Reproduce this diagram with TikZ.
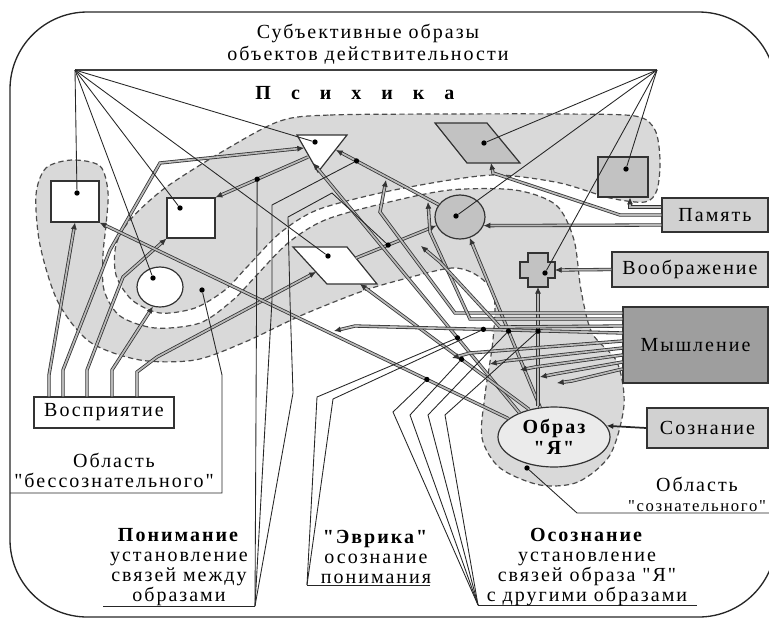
\documentclass[tikz,border=0pt]{standalone}
\usepackage{fontspec}
\newfontfamily\lblfont[LetterSpace=10]{Liberation Serif}
\usetikzlibrary{arrows.meta,calc,positioning,shapes.geometric}

\tikzset{
  zone/.style={fill=black!15, draw=black!70, line width=0.9pt, dash pattern=on 4pt off 2.5pt},
  img/.style={draw=black!80, line width=0.9pt, fill=white, inner sep=0pt},
  shimg/.style={img, fill=black!24},
  faculty/.style={draw=black!80, line width=0.9pt, fill=black!18, inner sep=0pt,
    font=\lblfont\fontsize{15}{16}\selectfont},
  link/.style={draw=black!80, double=black!28, double distance=1.3pt, line width=0.6pt,
    -{Latex[length=5pt,width=4.5pt]}},
  ray/.style={draw=black!85, line width=0.65pt},
  dot/.style={circle, fill=black, inner sep=0pt, minimum size=4pt},
  caption/.style={align=center, inner sep=0pt, font=\lblfont\fontsize{15}{15}\selectfont}
}

\begin{document}
\begin{tikzpicture}[x=0.75pt, y=-0.75pt]
  \useasboundingbox (0,0) rectangle (769,619);
  \draw[line width=1pt, black!85, rounded corners=58pt] (10,12) rectangle (776,617);

  % areas of the psyche
  \draw[zone] plot[smooth cycle, tension=0.5] coordinates {
    (72,160) (100,166) (108,192) (106,225) (103,255) (104,290) (120,316) (155,328)
    (200,323) (233,300) (255,277) (288,243) (325,220) (385,203) (450,190) (515,190)
    (556,205) (574,240) (581,290) (592,333) (617,362) (624,405) (610,455) (578,482)
    (540,485) (500,468) (482,438) (485,395) (493,340) (494,296) (478,276) (452,268)
    (400,280) (360,292) (300,316) (245,342) (195,360) (140,360) (90,342) (58,302)
    (40,245) (36,195) (46,168)};
  \draw[zone] plot[smooth cycle, tension=0.5] coordinates {
    (280,121) (330,115) (450,114) (560,114) (635,116) (655,130) (660,160) (657,190)
    (645,202) (610,198) (560,183) (500,175) (450,180) (380,193) (317,210) (280,233)
    (247,267) (225,290) (195,308) (160,313) (132,300) (116,275) (116,245) (130,220)
    (165,188) (225,150)};

  % header
  \node (hdr) [caption, font=\lblfont\fontsize{15}{16.5}\selectfont] at (368,44) {Субъективные образы\\объектов действительности};
  \node (psy) [font=\lblfont\bfseries\fontsize{15}{15}\selectfont] at (355,93)
    {П\hspace{15pt}с\hspace{15pt}и\hspace{15pt}х\hspace{15pt}и\hspace{15pt}к\hspace{15pt}а};
  \coordinate (fan_l) at (75,70);
  \coordinate (fan_r) at (657,70);
  \draw[line width=1.3pt, black!75] (fan_l) -- (fan_r);

  % faculties
  \node (perc) [faculty, fill=white, minimum width=105pt, minimum height=23.25pt] at (104,412.5) {Восприятие};
  \node (mem) [faculty, minimum width=79.5pt, minimum height=25.5pt] at (715,215) {Память};
  \node (imag) [faculty, minimum width=117pt, minimum height=26.25pt] at (690,269.5) {Воображение};
  \node (think) [faculty, fill=black!38, minimum width=108.75pt, minimum height=57pt] at (695.5,345) {Мышление};
  \node (consc) [faculty, minimum width=90.75pt, minimum height=30pt] at (707.5,428) {Сознание};
  \node (ya) [img, ellipse, fill=black!8, minimum width=84pt, minimum height=45pt, align=center,
    font=\lblfont\bfseries\fontsize{15}{16}\selectfont] at (554,437) {Образ\\"Я"};

  % images
  \node (box_a) [img, minimum width=36pt, minimum height=30.75pt] at (75,201.5) {};
  \node (box_b) [img, minimum width=36pt, minimum height=30pt] at (191,218) {};
  \node (oval_a) [img, ellipse, minimum width=34.5pt, minimum height=30pt] at (160,287) {};
  \node (circ) [shimg, ellipse, minimum width=37.5pt, minimum height=33pt] at (460,217) {};
  \node (box_s) [shimg, minimum width=37.5pt, minimum height=30pt] at (623,177) {};
  \draw[img] (297,135) -- (347,135) -- (318,172) -- cycle;
  \draw[img] (293,247) -- (347,247) -- (377,284) -- (327,284) -- cycle;
  \draw[shimg] (435,123) -- (487,123) -- (520,163) -- (467,163) -- cycle;
  \draw[shimg] (528,253) -- (548,253) -- (548,262) -- (555,262) -- (555,278) -- (548,278)
    -- (548,287) -- (528,287) -- (528,278) -- (520,278) -- (520,262) -- (528,262) -- cycle;
  \coordinate (tri_w) at (304,148);
  \coordinate (tri_sw) at (308,157);
  \coordinate (tri_s) at (313,163);
  \coordinate (tri_e) at (336,150);
  \coordinate (para_w_w) at (316,272);
  \coordinate (para_w_s) at (360,284);
  \coordinate (para_w_e) at (356,258);
  \coordinate (para_s_s) at (491,163);
  \coordinate (cross_e) at (555,270);
  \coordinate (cross_s) at (538,287);

  % links from perception
  \draw[link] ([xshift=-41.25pt]perc.north) -- (49,375) -- (box_a.south);
  \draw[link] ([xshift=-30.75pt]perc.north) -- (63,370) -- (110,250) -- (160,163) -- (tri_w);
  \draw[link] ([xshift=-12.75pt]perc.north) -- (87,370) -- (110,310) -- (123,277) -- (box_b.south west);
  \draw[link] ([xshift=6pt]perc.north) -- (112,370) -- (oval_a.-110);
  \draw[link] ([xshift=24.75pt]perc.north) -- (137,372) -- (157,357) -- (para_w_w);

  % links between images
  \draw[link] (tri_sw) -- (box_b.north east);
  \draw[link] (circ.150) -- (tri_e);
  \draw[link] (para_w_e) -- (circ.200);

  % links of the self image
  \draw[link] (ya.158) -- (box_a.south east);
  \draw[link] (ya.145) -- (tri_s);
  \draw[link] (ya.132) -- (para_w_s);
  \draw[link] (ya.115) -- (circ.-65);
  \draw[link] (ya.north -| cross_s) -- (cross_s);

  % memory, imagination, consciousness
  \draw[link] ([yshift=6pt]mem.west) -| ([xshift=5.25pt]box_s.south);
  \draw[link] (mem.west) -- (620,215) -- (493,173) -- (para_s_s);
  \draw[link] ([yshift=-7.5pt]mem.west) -- (circ.-20);
  \draw[link] (imag.west) -- (cross_e);
  \draw[line width=1.3pt, black!85, -{Latex[length=5pt,width=4.5pt]}] (consc.west) -- (ya.12);

  % thinking
  \coordinate (t4_start) at ([yshift=9pt]think.west);
  \coordinate (t4_bend) at (355,326);
  \draw[link] ([yshift=24pt]think.west) -- (455,313) -- (380,212) -- (386,180);
  \draw[link] ([yshift=19.5pt]think.west) -- (470,319) -- (430,232) -- (428,202);
  \draw[link] ([yshift=14.25pt]think.west) -- (500,327) -- (440,262) -- (421,246);
  \draw[link] (t4_start) -- (t4_bend) -- (334,331);
  \draw[link] ([yshift=3pt]think.west) -- (470,353) -- (452,358);
  \draw[link] ([yshift=-2.25pt]think.west) -- (505,361) -- (490,364);
  \draw[link] ([yshift=-7.5pt]think.west) -- (535,367) -- (520,370);
  \draw[link] ([yshift=-12.75pt]think.west) -- (555,374) -- (540,377);
  \draw[link] ([yshift=-18pt]think.west) -- (572,381) -- (557,383);

  % dots on images
  \node (d_boxa) [dot] at (77,193) {};
  \node (d_boxb) [dot] at (180,208) {};
  \node (d_oval) [dot] at (153,278) {};
  \node (d_tri) [dot] at (315,142) {};
  \node (d_paraw) [dot] at (328,256) {};
  \node (d_parag) [dot] at (484,143) {};
  \node (d_boxs) [dot] at (626,169) {};
  \node (d_circ) [dot] at (456,216) {};
  \node (d_cross) [dot] at (545,273) {};

  % dots on links
  \node (d_u1) [dot] at ($(tri_sw)!0.55!(box_b.north east)$) {};
  \node (d_u2) [dot] at ($(tri_e)!0.2!(circ.150)$) {};
  \node (d_u3) [dot] at ($(para_w_e)!0.4!(circ.200)$) {};
  \node (d_e1) [dot] at ($(ya.145)!0.3!(tri_s)$) {};
  \node (d_e2) [dot] at ($(t4_start)!0.52!(t4_bend)$) {};
  \node (d_w1) [dot] at ($(ya.158)!0.2!(box_a.south east)$) {};
  \node (d_w2) [dot] at ($(ya.132)!0.4!(para_w_s)$) {};
  \node (d_w3) [dot] at ($(ya.115)!0.45!(circ.-65)$) {};
  \node (d_w4) [dot] at ($(ya.north -| cross_s)!0.63!(cross_s)$) {};
  \node (d_unc) [dot] at (202,290) {};
  \node (d_con) [dot] at (527,468) {};

  % subjective images
  \foreach \d in {d_boxa,d_boxb,d_oval,d_tri,d_paraw}
    \draw[ray] (fan_l) -- (\d);
  \foreach \d in {d_parag,d_boxs,d_circ,d_cross}
    \draw[ray] (fan_r) -- (\d);

  % understanding
  \coordinate (und_pt) at (255,606);
  \coordinate (und_left) at (103,606);
  \draw[ray] (und_left) -- (und_pt);
  \draw[ray] (und_pt) -- (d_u1);
  \draw[ray] (und_pt) -- (272,300) -- (272,205) -- (d_u2);
  \draw[ray] (und_pt) -- (293,393) -- (290,300) -- (288,217) -- (332,193) -- (d_u3);

  % eureka
  \coordinate (eur_pt) at (307,585);
  \coordinate (eur_end) at (430,585);
  \draw[ray] (eur_pt) -- (eur_end);
  \draw[ray] (eur_pt) -- (317,397) -- (d_e1);
  \draw[ray] (eur_pt) -- (333,399) -- (d_e2);

  % awareness
  \coordinate (aw_pt) at (478,605);
  \coordinate (aw_end) at (697,605);
  \draw[ray] (aw_pt) -- (aw_end);
  \draw[ray] (aw_pt) -- (393,412) -- (d_w1);
  \draw[ray] (aw_pt) -- (410,415) -- (d_w2);
  \draw[ray] (aw_pt) -- (428,415) -- (d_w3);
  \draw[ray] (aw_pt) -- (445,415) -- (d_w4);

  % areas
  \coordinate (unc_end) at (10,493);
  \coordinate (con_end) at (776,513);
  \draw[ray] (d_unc) -- (222,375) -- (222,493) -- (unc_end);
  \draw[ray] (d_con) -- (577,513) -- (con_end);

  \node (lbl_unc) [caption] at (114,470) {Область\\"бессознательного"};
  \node (lbl_con) [caption] at (697,494) {Область\\{\fontsize{12.5}{15}\selectfont"сознательного"}};
  \node (lbl_und) [caption] at (179,567) {\textbf{Понимание}\\установление\\связей между\\образами};
  \node (lbl_eur) [caption] at (376,557) {\textbf{"Эврика"}\\осознание\\понимания};
  \node (lbl_aw) [caption] at (587,567) {\textbf{Осознание}\\установление\\связей образа "Я"\\с другими образами};
\end{tikzpicture}
\end{document}
